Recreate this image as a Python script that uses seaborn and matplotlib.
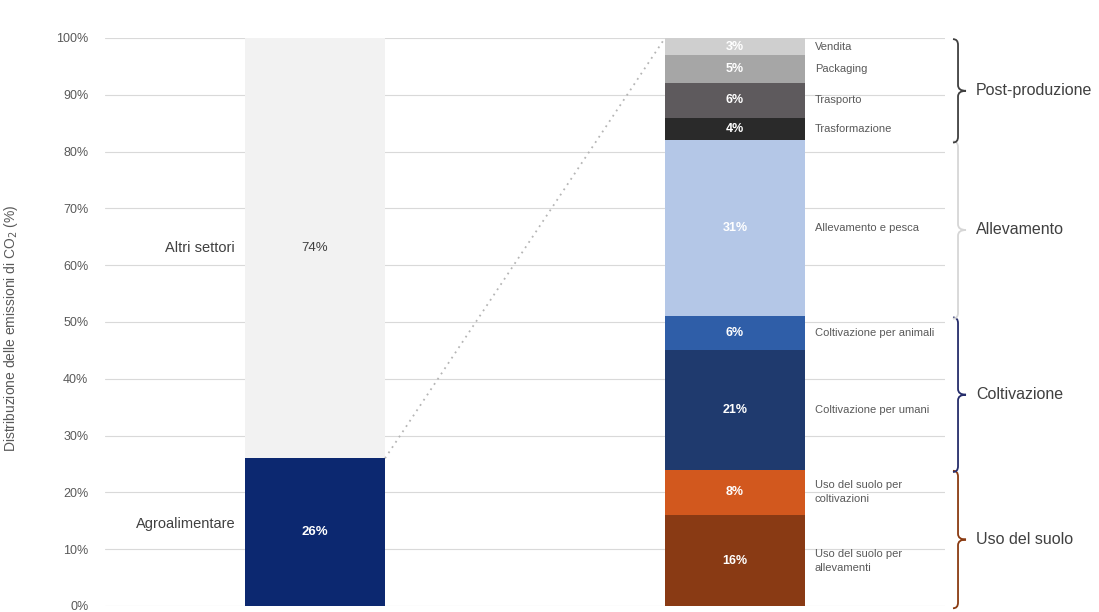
import matplotlib
matplotlib.use("Agg")
import matplotlib.pyplot as plt
from matplotlib import font_manager
from matplotlib.path import Path
from matplotlib.patches import PathPatch
import numpy as np
import seaborn as sns

# ---- data -------------------------------------------------------------
bar_names = ["Totale", "Filiera"]

overview_labels = ["Agroalimentare", "Altri settori"]
overview_values = [26, 74]
overview_colors = ["#0c2870", "#f2f2f2"]

chain_labels = [
    "Uso del suolo per\nallevamenti",
    "Uso del suolo per\ncoltivazioni",
    "Coltivazione per umani",
    "Coltivazione per animali",
    "Allevamento e pesca",
    "Trasformazione",
    "Trasporto",
    "Packaging",
    "Vendita",
]
chain_values = [16, 8, 21, 6, 31, 4, 6, 5, 3]
chain_colors = ["#893a14", "#d2581e", "#1f3a6e", "#2f5ea8", "#b4c7e7",
                "#2a2a2a", "#5e5a5d", "#a6a6a6", "#cfcfcf"]

group_names = ["Uso del suolo", "Coltivazione", "Allevamento", "Post-produzione"]
group_sizes = [2, 2, 1, 4]
group_colors = ["#8a3b12", "#262d6b", "#d6d6d6", "#404040"]

y_ticks = list(range(0, 101, 10))

# ---- style ------------------------------------------------------------
sns.set_theme(style="white")
installed = {f.name for f in font_manager.fontManager.ttflist}
families = [f for f in ["Liberation Sans Narrow", "Liberation Sans", "DejaVu Sans"]
            if f in installed]
plt.rcParams["font.family"] = families

fig = plt.figure(figsize=(10.99, 6.12), dpi=100)
ax = fig.add_axes([105 / 1099, 6 / 612, 840 / 1099, 568 / 612])

BAR_W = 1 / 3


def stacked(ax, cat, values, colors):
    """Stack segments by drawing cumulative bars, tallest first."""
    tops = np.cumsum(values)
    for top, col in sorted(zip(tops, colors), key=lambda p: -p[0]):
        sns.barplot(x=[cat], y=[top], order=bar_names, color=col,
                    width=BAR_W, saturation=1, linewidth=0,
                    errorbar=None, ax=ax, zorder=2)
    return tops


ov_tops = stacked(ax, bar_names[0], overview_values, overview_colors)
ch_tops = stacked(ax, bar_names[1], chain_values, chain_colors)

# value labels inside the segments
for i, (v, top) in enumerate(zip(overview_values, ov_tops)):
    col = "white" if i == 0 else "#404040"
    ax.text(0, top - v / 2, f"{v}%", ha="center", va="center",
            fontsize=9.5, color=col, fontweight="bold" if i == 0 else "normal",
            zorder=4)
    ax.text(-0.19, top - v / 2 + (1.5 if i == 0 else 0), overview_labels[i],
            ha="right", va="center", fontsize=10.5, color="#404040", zorder=4)

for lab, v, top in zip(chain_labels, chain_values, ch_tops):
    mid = top - v / 2
    ax.text(1, mid, f"{v}%", ha="center", va="center", fontsize=9,
            color="white", fontweight="bold", zorder=4)
    ax.text(1.19, mid, lab, ha="left", va="center", fontsize=8,
            color="#595959", linespacing=1.5, zorder=4)

# dotted connector from the food-system share to the breakdown
ax.plot([BAR_W / 2, 1 - BAR_W / 2], [overview_values[0], sum(chain_values)],
        ls=(0, (1, 2.5)), color="#b5b5b5", lw=1.3, zorder=3)


def brace(ax, x0, y0, y1, color, w=0.012, t=0.019, r=1.0):
    ym = (y0 + y1) / 2
    xv = x0 + w
    verts = [(x0, y1), (xv, y1), (xv, y1 - r), (xv, ym + r),
             (xv, ym), (xv + t, ym), (xv, ym), (xv, ym - r),
             (xv, y0 + r), (xv, y0), (x0, y0)]
    codes = [Path.MOVETO, Path.CURVE3, Path.CURVE3, Path.LINETO,
             Path.CURVE3, Path.CURVE3, Path.CURVE3, Path.CURVE3,
             Path.LINETO, Path.CURVE3, Path.CURVE3]
    ax.add_patch(PathPatch(Path(verts, codes), fill=False, edgecolor=color,
                           lw=1.3, clip_on=False, zorder=4))
    return ym


bounds = np.concatenate([[0], ch_tops])
start = 0
for name, size, col in zip(group_names, group_sizes, group_colors):
    lo, hi = bounds[start], bounds[start + size]
    start += size
    ym = brace(ax, 1.519, lo - 0.4, hi - 0.2, col)
    ax.text(1.574, ym, name, ha="left", va="center", fontsize=11.5,
            color="#404040", clip_on=False)

# ---- axes -------------------------------------------------------------
ax.set_xlim(-0.5, 1.5)
ax.set_ylim(0, 100)
ax.set_yticks(y_ticks)
ax.set_yticklabels([f"{t}%" for t in y_ticks])
ax.set_xticks([])
ax.set_xlabel("")
ax.yaxis.grid(True, color="#d9d9d9", lw=0.8)
ax.set_axisbelow(True)
ax.tick_params(axis="y", length=0, pad=12, labelsize=9, labelcolor="#595959")
sns.despine(ax=ax, left=True, bottom=True)
ax.set_ylabel("Distribuzione delle emissioni di CO$_2$ (%)", fontsize=10,
              color="#595959")
ax.yaxis.set_label_coords(-0.101, 0.49)

fig.savefig("out.png", dpi=100)
